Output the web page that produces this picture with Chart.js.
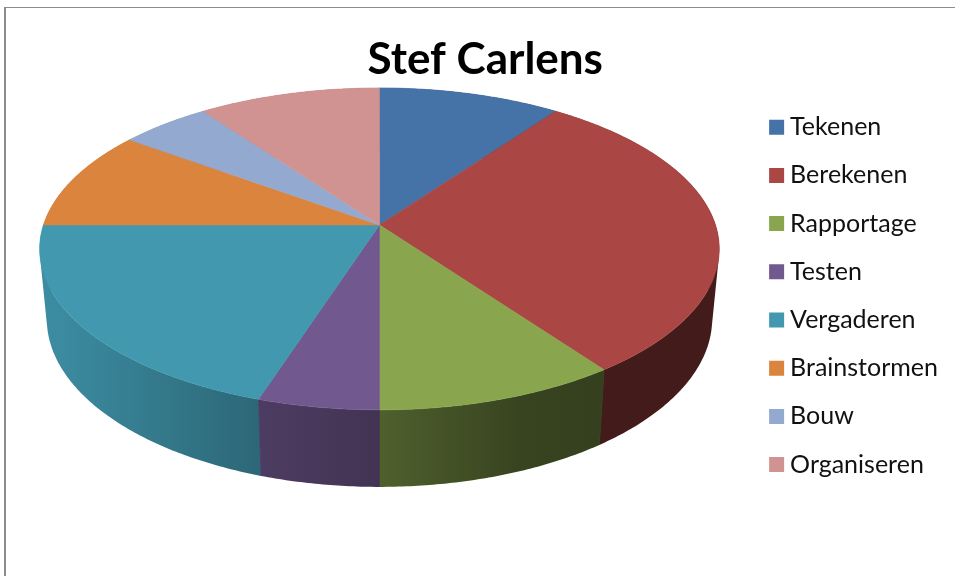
<!DOCTYPE html>
<html>
<head>
<meta charset="utf-8">
<title>Stef Carlens</title>
<script src="https://cdn.jsdelivr.net/npm/chart.js@4/dist/chart.umd.min.js"></script>
<style>
  html, body { margin: 0; padding: 0; width: 955px; height: 576px; overflow: hidden; background: #fff; }
  #frame { position: absolute; left: 4px; top: 7px; width: 990px; height: 600px; border-left: 2px solid #8c8c8c; border-top: 1px solid #8c8c8c; }
  #pieChart { position: absolute; left: 0; top: 0; }
</style>
</head>
<body>
<div id="frame"></div>
<canvas id="pieChart" width="971" height="576"></canvas>
<script>
const categories = ['Tekenen', 'Berekenen', 'Rapportage', 'Testen', 'Vergaderen', 'Brainstormen', 'Bouw', 'Organiseren'];
const shares = [10, 30, 10, 5, 20, 10, 5, 10];
const sliceColors = ['#4572A7', '#AA4643', '#89A54E', '#71588F', '#4198AF', '#DB843D', '#93A9CF', '#D19392'];

// light falloff along the rim, left to right
const rimShadeStops = [0, 0.32, 0.5, 0.71, 0.83, 1];
const rimShades = [0.92, 0.68, 0.58, 0.41, 0.39, 0.39];

const shadeColor = (hex, f) => {
  const n = parseInt(hex.slice(1), 16);
  const r = Math.round((n >> 16 & 255) * f);
  const g = Math.round((n >> 8 & 255) * f);
  const b = Math.round((n & 255) * f);
  return `rgb(${r}, ${g}, ${b})`;
};

// projects a point on a circular disc onto the screen with a vanishing point
const project = (arc, plane, k, angle) => {
  const u = Math.cos(angle);
  const v = Math.sin(angle);
  const w = 1 - k * v;
  return {
    x: arc.x + plane.shift + plane.rx * u / w,
    y: arc.y + plane.lift + plane.ry * v / w
  };
};

const edgePoints = (arc, plane, k) => {
  const pts = [];
  const steps = Math.max(2, Math.ceil((arc.endAngle - arc.startAngle) / 0.01));
  for (let i = 0; i <= steps; i++) {
    const a = arc.startAngle + (arc.endAngle - arc.startAngle) * i / steps;
    pts.push(project(arc, plane, k, a));
  }
  return pts;
};

// twice the signed area, used to give every quad of a rim the same winding
const signedArea = (quad) => quad.reduce((sum, p, i) => {
  const q = quad[(i + 1) % quad.length];
  return sum + p.x * q.y - q.x * p.y;
}, 0);

const tiltedPie = {
  id: 'tiltedPie',
  beforeDatasetsDraw(chart, args, opts) {
    const ctx = chart.ctx;
    const arcs = chart.getDatasetMeta(0).data;
    const k = opts.perspective;
    const top = { rx: arcs[0].outerRadius, ry: opts.topRy, lift: opts.topLift, shift: opts.shift };
    const base = { rx: opts.baseRx, ry: opts.baseRy, lift: opts.baseLift, shift: opts.shift };
    const rimLeft = arcs[0].x + opts.shift - base.rx;
    const rimRight = arcs[0].x + opts.shift + base.rx;
    ctx.save();
    ctx.lineWidth = 0.8; // hides the hairline seams between neighbouring slices
    ctx.lineJoin = 'round';

    // rim first, back slices before front ones
    const ordered = arcs.map((arc, i) => ({ arc, i }))
      .sort((a, b) => Math.sin((a.arc.startAngle + a.arc.endAngle) / 2) - Math.sin((b.arc.startAngle + b.arc.endAngle) / 2));
    ordered.forEach(({ arc, i }) => {
      const upper = edgePoints(arc, top, k);
      const lower = edgePoints(arc, base, k);
      const grad = ctx.createLinearGradient(rimLeft, 0, rimRight, 0);
      rimShadeStops.forEach((s, j) => grad.addColorStop(s, shadeColor(sliceColors[i], rimShades[j])));
      ctx.fillStyle = grad;
      ctx.strokeStyle = grad;
      // all quads in one path: the outline folds over itself where the rim turns away
      ctx.beginPath();
      for (let j = 0; j < upper.length - 1; j++) {
        const quad = [upper[j], upper[j + 1], lower[j + 1], lower[j]];
        if (signedArea(quad) < 0) quad.reverse();
        quad.forEach((p, n) => n ? ctx.lineTo(p.x, p.y) : ctx.moveTo(p.x, p.y));
        ctx.closePath();
      }
      ctx.fill();
      ctx.beginPath();
      ctx.moveTo(upper[0].x, upper[0].y);
      ctx.lineTo(lower[0].x, lower[0].y);
      ctx.moveTo(upper[upper.length - 1].x, upper[upper.length - 1].y);
      ctx.lineTo(lower[lower.length - 1].x, lower[lower.length - 1].y);
      ctx.stroke();
    });

    // top face
    ctx.lineWidth = 0.6;
    arcs.forEach((arc, i) => {
      ctx.beginPath();
      ctx.moveTo(arc.x + top.shift, arc.y + top.lift);
      edgePoints(arc, top, k).forEach(p => ctx.lineTo(p.x, p.y));
      ctx.closePath();
      ctx.fillStyle = sliceColors[i];
      ctx.strokeStyle = sliceColors[i];
      ctx.fill();
      ctx.stroke();
    });
    ctx.restore();
    return false;
  }
};

new Chart(document.getElementById('pieChart').getContext('2d'), {
  type: 'pie',
  data: {
    labels: categories,
    datasets: [{
      data: shares,
      backgroundColor: sliceColors,
      borderWidth: 0
    }]
  },
  options: {
    responsive: false,
    animation: false,
    radius: 336,
    layout: {
      padding: { left: 22.5, right: 23, top: 0, bottom: 70 }
    },
    plugins: {
      tooltip: { enabled: false },
      title: {
        display: true,
        text: 'Stef Carlens',
        color: '#000',
        font: { family: 'Lato', size: 44, weight: 'bold' },
        padding: { top: 33, bottom: 0 }
      },
      legend: {
        position: 'right',
        fullSize: false,
        labels: {
          usePointStyle: true,
          pointStyle: 'rect',
          boxWidth: 2,
          boxHeight: 15,
          padding: 23.2,
          color: '#111',
          font: { family: 'Lato', size: 25 }
        }
      },
      tiltedPie: {
        perspective: 0.149,
        shift: -8,
        topRy: 157.4,
        topLift: -71,
        baseRx: 329,
        baseRy: 164.5,
        baseLift: -2.3
      }
    }
  },
  plugins: [tiltedPie]
});
</script>
</body>
</html>
